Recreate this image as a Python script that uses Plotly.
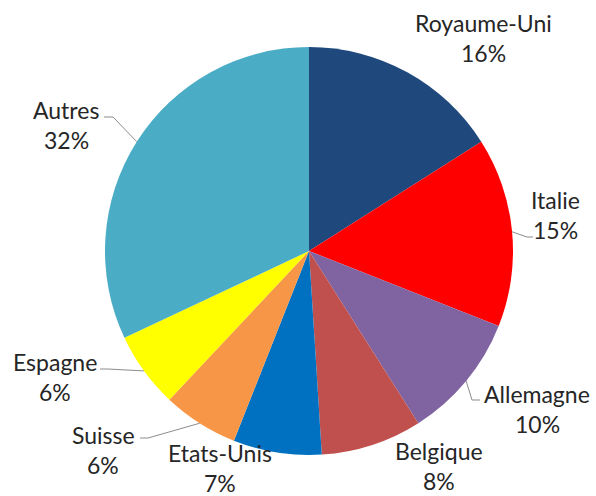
import math
import plotly.graph_objects as go

# ---- data ----
categories = ["Royaume-Uni", "Italie", "Allemagne", "Belgique", "Etats-Unis", "Suisse", "Espagne", "Autres"]
shares = [16, 15, 10, 8, 7, 6, 6, 32]
colors = ["#1F497D", "#FF0000", "#8064A2", "#C0504D", "#0070C0", "#F79646", "#FFFF00", "#4BACC6"]

# ---- layout settings ----
W, H = 596, 496
CX, CY, R = 309, 251, 204  # pie centre/radius in pixels
# label block centre (px) and optional leader end (px) / elbow side
label_layout = {
    "Royaume-Uni": dict(x=483, y=38, leader=None),
    "Italie": dict(x=555, y=215, leader=((527, 237), (533, 237))),
    "Allemagne": dict(x=537, y=409, leader=((472, 400), (480, 400))),
    "Belgique": dict(x=439, y=466, leader=None),
    "Etats-Unis": dict(x=220, y=468, leader=None),
    "Suisse": dict(x=103, y=450, leader=((148, 438), (140, 438))),
    "Espagne": dict(x=55, y=377, leader=((108, 369), (100, 369))),
    "Autres": dict(x=66, y=125, leader=((113, 117), (104, 117))),
}
FONT = "Lato"
FS = 23
LINE_GAP = 30

fig = go.Figure(go.Pie(
    labels=categories,
    values=shares,
    sort=False,
    direction="clockwise",
    rotation=0,
    marker=dict(colors=colors, line=dict(width=0)),
    textinfo="none",
    hoverinfo="skip",
    showlegend=False,
    domain=dict(x=[(CX - R) / W, (CX + R) / W],
                y=[(H - CY - R) / H, (H - CY + R) / H]),
))

def px(x, y):
    return x / W, 1 - y / H

total = sum(shares)
cum = 0
annotations = []
shapes = []
for name, v in zip(categories, shares):
    mid = (cum + v / 2) / total * 2 * math.pi
    cum += v
    lay = label_layout[name]
    pct = f"{round(v / total * 100)}%"
    for i, t in enumerate([name, pct]):
        xx, yy = px(lay["x"], lay["y"] - LINE_GAP / 2 + i * LINE_GAP)
        annotations.append(dict(x=xx, y=yy, xref="paper", yref="paper", text=t,
                                showarrow=False, xanchor="center", yanchor="middle",
                                font=dict(family=FONT, size=FS, color="#262626")))
    if lay["leader"]:
        sx = CX + R * math.sin(mid)
        sy = CY - R * math.cos(mid)
        (ex, ey), (fx, fy) = lay["leader"]
        p0, p1, p2 = px(sx, sy), px(ex, ey), px(fx, fy)
        shapes.append(dict(type="path", xref="paper", yref="paper",
                           path=f"M {p0[0]},{p0[1]} L {p1[0]},{p1[1]} L {p2[0]},{p2[1]}",
                           line=dict(color="#8C8C8C", width=1)))

fig.update_layout(
    width=W, height=H,
    margin=dict(l=0, r=0, t=0, b=0),
    paper_bgcolor="white", plot_bgcolor="white",
    annotations=annotations, shapes=shapes,
)
fig.write_html("out.html",
               config={"displayModeBar": False},
               post_script="document.body.style.margin='0';document.body.style.overflow='hidden';")
